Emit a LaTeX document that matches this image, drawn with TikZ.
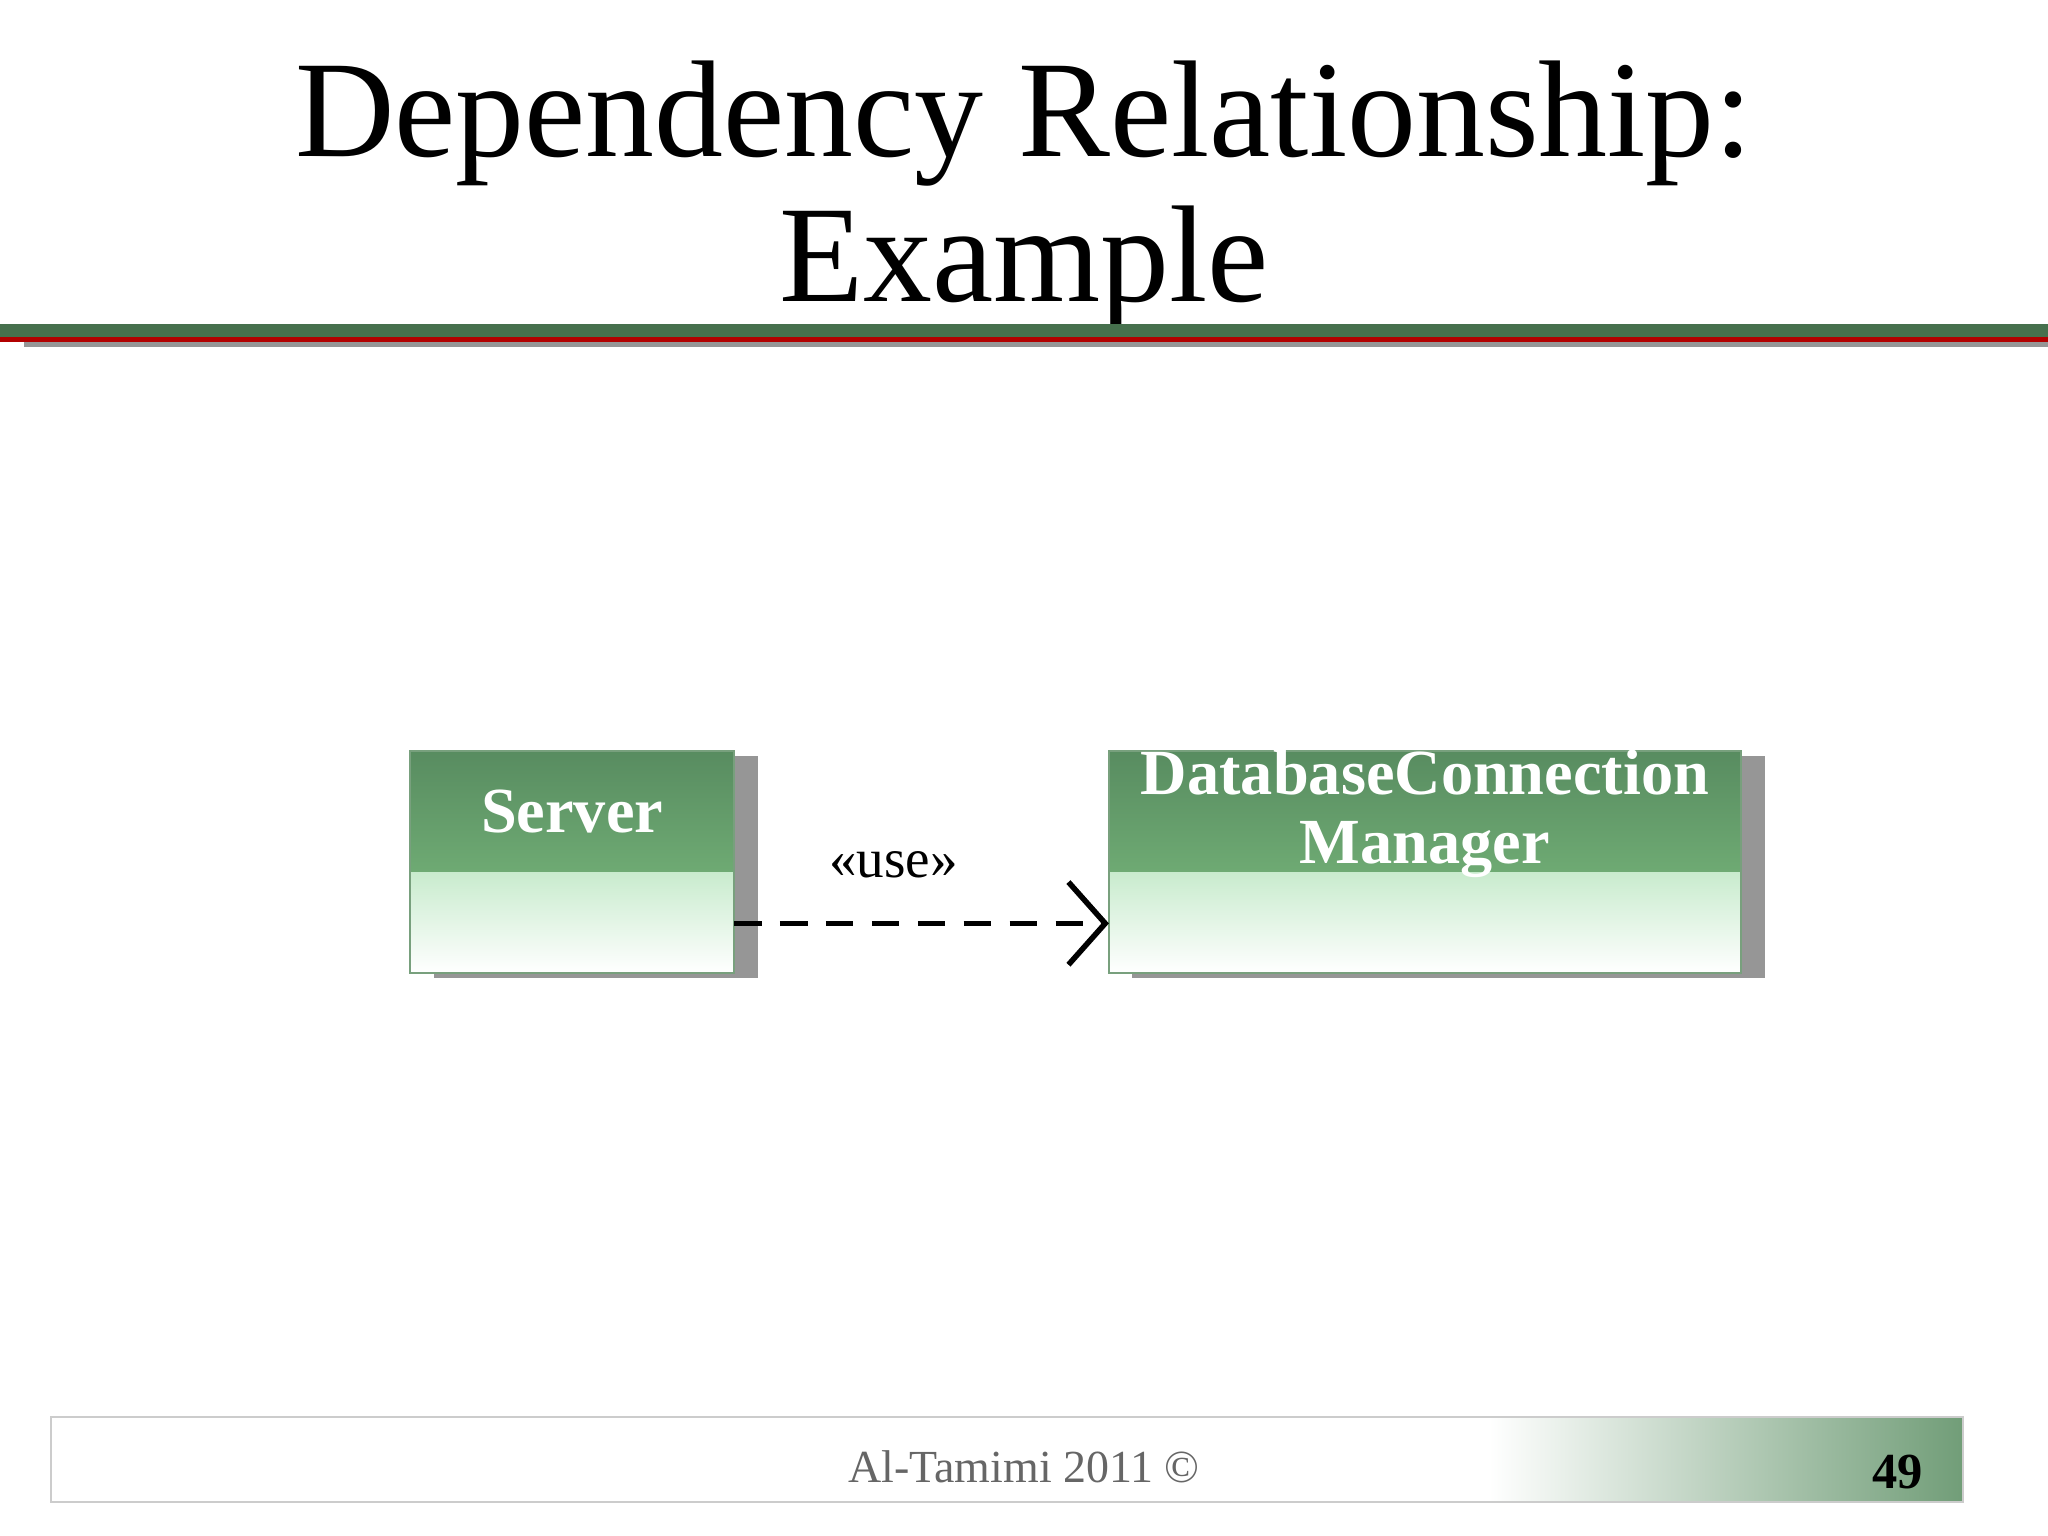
\documentclass[tikz,border=0pt]{standalone}
\usepackage{fontspec}
\setmainfont{Liberation Serif}
\usetikzlibrary{positioning, arrows.meta}

\definecolor{hdrgreen}{RGB}{88,140,96}
\definecolor{hdrlight}{RGB}{110,170,115}
\definecolor{bodygreen}{RGB}{200,235,205}
\definecolor{edgegreen}{RGB}{120,160,125}
\definecolor{shadowgray}{RGB}{150,150,150}

\tikzset{
  classhead/.style={minimum height=0.92cm, inner sep=0pt, text=white, font=\bfseries\fontsize{14}{15}\selectfont, align=center},
  connector/.style={dash pattern=on 6pt off 4pt, line width=1.2pt, -{Straight Barb[length=8pt, width=18pt, line width=1.2pt]}}
}

\begin{document}
\begin{tikzpicture}[x=0.01cm, y=0.01cm]
    \useasboundingbox (0,0) rectangle (1568,1176);
    \fill[white] (0,0) rectangle (1568,1176);
    % Title
    \node (title) at (784,1026) [align=center, font=\fontsize{30}{31.5}\selectfont] {Dependency Relationship:\\Example};
    \fill[shadowgray] (18,910) rectangle (1568,916);
    \fill[red!70!black] (0,914) rectangle (1568,918);
    \fill[hdrgreen!80!black] (0,918) rectangle (1568,928);
    % Server class
    \fill[shadowgray] (332,427) rectangle (580,597);
    \shade[top color=bodygreen, bottom color=white] (314,431) rectangle (562,509);
    \shade[top color=hdrgreen, bottom color=hdrlight] (314,509) rectangle (562,601);
    \draw[edgegreen] (314,431) rectangle (562,601);
    \node (server) [classhead] at (438,555) {Server};
    % DatabaseConnectionManager class
    \fill[shadowgray] (867,427) rectangle (1351,597);
    \shade[top color=bodygreen, bottom color=white] (849,431) rectangle (1333,509);
    \shade[top color=hdrgreen, bottom color=hdrlight] (849,509) rectangle (1333,601);
    \draw[edgegreen] (849,431) rectangle (1333,601);
    \node (dbmanager) [classhead] at (1091,553) {DatabaseConnection\\Manager};
    % Dependency
    \coordinate (usefrom) at (562,469);
    \coordinate (useto) at (849,469);
    \draw[connector] (usefrom) -- (useto);
    \node (uselabel) at (684,514) [font=\fontsize{12}{14}\selectfont] {\textless\textless use\textgreater\textgreater};
    % Footer
    \shade[left color=white, right color=hdrgreen!85] (1140,26) rectangle (1503,91);
    \draw[gray!40] (39,26) rectangle (1503,91);
    \node (credit) at (784,53) [text=gray!80!black, font=\fontsize{10}{12}\selectfont] {Al-Tamimi 2011 ©};
    \node (pageno) at (1453,49) [font=\bfseries\fontsize{11}{13}\selectfont] {49};
\end{tikzpicture}
\end{document}
